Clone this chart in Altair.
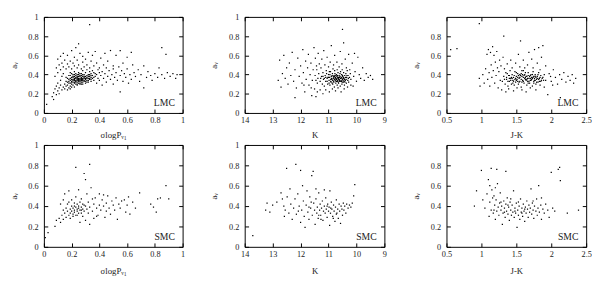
import altair as alt
import pandas as pd

# ---------------- data ----------------
lmc_sigma = [
    (0.15,0.30),(0.16,0.33),(0.17,0.29),(0.17,0.36),(0.18,0.31),(0.18,0.39),(0.19,0.28),(0.19,0.34),(0.19,0.42),(0.20,0.30),
    (0.20,0.37),(0.20,0.33),(0.21,0.29),(0.21,0.35),(0.21,0.40),(0.21,0.32),(0.22,0.27),(0.22,0.31),(0.22,0.36),(0.22,0.38),
    (0.22,0.43),(0.23,0.30),(0.23,0.34),(0.23,0.37),(0.23,0.33),(0.24,0.29),(0.24,0.32),(0.24,0.36),(0.24,0.40),(0.24,0.35),
    (0.25,0.31),(0.25,0.34),(0.25,0.38),(0.25,0.42),(0.26,0.30),(0.26,0.33),(0.26,0.36),(0.26,0.39),(0.27,0.32),(0.27,0.35),
    (0.27,0.37),(0.27,0.41),(0.28,0.30),(0.28,0.34),(0.28,0.38),(0.28,0.44),(0.29,0.33),(0.29,0.36),(0.29,0.40),(0.30,0.31),
    (0.30,0.35),(0.30,0.38),(0.30,0.42),(0.31,0.34),(0.31,0.37),(0.31,0.45),(0.32,0.32),(0.32,0.36),(0.32,0.40),(0.33,0.35),
    (0.33,0.38),(0.33,0.43),(0.34,0.33),(0.34,0.37),(0.34,0.41),(0.35,0.36),(0.35,0.39),(0.36,0.34),(0.36,0.42),(0.37,0.38),
    (0.16,0.37),(0.18,0.35),(0.20,0.41),(0.23,0.39),(0.25,0.36),(0.26,0.34),(0.24,0.38),(0.22,0.34),(0.21,0.37),(0.19,0.31),
    (0.17,0.32),(0.28,0.36),(0.29,0.38),(0.27,0.39),(0.26,0.41),(0.31,0.39),(0.32,0.34),(0.33,0.40),(0.35,0.44),(0.38,0.40),
    (0.39,0.36),(0.40,0.42),
    (0.18,0.33),(0.19,0.36),(0.19,0.39),(0.20,0.32),(0.20,0.35),(0.21,0.34),(0.21,0.38),(0.22,0.32),(0.22,0.35),(0.22,0.40),
    (0.23,0.32),(0.23,0.36),(0.23,0.41),(0.24,0.30),(0.24,0.34),(0.24,0.37),(0.25,0.33),(0.25,0.35),(0.25,0.40),(0.26,0.31),
    (0.26,0.35),(0.26,0.38),(0.27,0.30),(0.27,0.34),(0.27,0.36),(0.28,0.32),(0.28,0.35),(0.28,0.40),(0.29,0.34),(0.29,0.37),
    (0.30,0.33),(0.30,0.36),(0.31,0.32),(0.31,0.36),(0.32,0.38),(0.33,0.36),(0.34,0.35),(0.34,0.39),(0.36,0.37),(0.37,0.41),
    (0.09,0.47),(0.10,0.56),(0.11,0.50),(0.12,0.45),(0.12,0.59),(0.13,0.52),(0.14,0.48),(0.14,0.62),(0.15,0.55),(0.16,0.46),
    (0.17,0.51),(0.17,0.60),(0.18,0.48),(0.19,0.54),(0.20,0.46),(0.20,0.65),(0.21,0.52),(0.22,0.49),(0.22,0.58),(0.23,0.68),
    (0.24,0.47),(0.24,0.55),(0.25,0.72),(0.25,0.50),(0.26,0.62),(0.27,0.46),(0.28,0.53),(0.28,0.59),(0.29,0.48),(0.30,0.56),
    (0.31,0.50),(0.32,0.63),(0.33,0.47),(0.34,0.54),(0.35,0.60),(0.36,0.49),(0.37,0.64),(0.38,0.52),(0.40,0.47),(0.41,0.57),
    (0.43,0.50),(0.44,0.62),(0.46,0.54),(0.48,0.65),(0.50,0.49),(0.52,0.60),(0.55,0.65),(0.57,0.52),(0.60,0.58),(0.63,0.63),
    (0.38,0.31),(0.39,0.45),(0.40,0.34),(0.41,0.39),(0.42,0.29),(0.42,0.43),(0.43,0.36),(0.44,0.41),(0.45,0.32),(0.45,0.47),
    (0.46,0.38),(0.47,0.44),(0.48,0.35),(0.49,0.40),(0.50,0.30),(0.50,0.46),(0.51,0.37),(0.52,0.42),(0.53,0.34),(0.54,0.48),
    (0.55,0.22),(0.55,0.39),(0.56,0.44),(0.57,0.33),(0.58,0.41),(0.59,0.37),(0.60,0.46),(0.61,0.31),(0.62,0.40),(0.63,0.35),
    (0.64,0.50),(0.65,0.42),(0.66,0.38),(0.68,0.45),(0.69,0.33),(0.70,0.40),(0.72,0.26),(0.72,0.49),(0.74,0.37),(0.75,0.43),
    (0.77,0.39),(0.78,0.34),(0.80,0.41),(0.82,0.37),(0.83,0.47),(0.85,0.40),(0.85,0.68),(0.87,0.36),(0.88,0.61),(0.89,0.42),
    (0.91,0.38),(0.93,0.41),(0.95,0.36),(0.96,0.40),
    (0.02,0.09),(0.06,0.17),(0.07,0.14),(0.07,0.21),(0.08,0.25),(0.09,0.19),(0.09,0.28),(0.10,0.23),(0.10,0.31),(0.11,0.26),
    (0.11,0.20),(0.12,0.29),(0.12,0.34),(0.13,0.24),(0.13,0.38),(0.14,0.27),(0.14,0.41),(0.15,0.25),(0.16,0.28),(0.17,0.24),
    (0.18,0.26),(0.19,0.25),(0.20,0.27),(0.08,0.38),(0.10,0.42),(0.33,0.92),
]

lmc_k = [
    (11.30,0.33),(11.25,0.38),(11.22,0.30),(11.20,0.42),(11.18,0.35),(11.15,0.28),(11.12,0.39),(11.10,0.33),(11.08,0.44),(11.05,0.36),
    (11.03,0.30),(11.00,0.40),(10.98,0.34),(10.96,0.37),(10.95,0.29),(10.93,0.43),(10.91,0.32),(10.90,0.38),(10.88,0.35),(10.86,0.41),
    (10.85,0.30),(10.83,0.36),(10.82,0.33),(10.80,0.39),(10.79,0.27),(10.78,0.44),(10.76,0.34),(10.75,0.37),(10.74,0.31),(10.72,0.40),
    (10.71,0.35),(10.70,0.38),(10.69,0.29),(10.68,0.33),(10.66,0.42),(10.65,0.36),(10.64,0.31),(10.62,0.39),(10.61,0.34),(10.60,0.37),
    (10.58,0.28),(10.57,0.43),(10.56,0.33),(10.55,0.36),(10.53,0.40),(10.52,0.30),(10.50,0.35),(10.49,0.38),(10.47,0.32),(10.46,0.42),
    (10.45,0.36),(10.43,0.29),(10.42,0.39),(10.40,0.34),(10.38,0.41),(10.36,0.31),(10.35,0.37),(10.33,0.44),(10.31,0.34),(10.30,0.39),
    (10.28,0.32),(10.25,0.37),(10.22,0.41),(10.20,0.35),(11.35,0.41),(11.38,0.36),(11.40,0.31),(11.42,0.45),(11.45,0.34),(11.48,0.39),
    (10.92,0.35),(10.87,0.31),(10.81,0.37),(10.77,0.41),(10.73,0.33),(10.67,0.37),(10.63,0.35),(10.59,0.41),(10.54,0.33),(10.48,0.36),
    (10.44,0.33),(10.39,0.37),(11.02,0.37),(11.07,0.41),(10.97,0.43),(10.84,0.46),(10.69,0.45),(10.51,0.45),
    (11.15,0.36),(11.10,0.37),(11.05,0.33),(11.00,0.37),(10.98,0.31),(10.95,0.40),(10.92,0.33),(10.89,0.36),(10.87,0.39),(10.85,0.34),
    (10.83,0.38),(10.81,0.32),(10.79,0.35),(10.78,0.38),(10.76,0.36),(10.74,0.39),(10.73,0.35),(10.71,0.33),(10.70,0.36),(10.68,0.39),
    (10.67,0.34),(10.65,0.32),(10.64,0.37),(10.62,0.35),(10.60,0.33),(10.59,0.38),(10.57,0.36),(10.55,0.34),(10.53,0.37),(10.51,0.32),
    (10.50,0.39),(10.48,0.34),(10.46,0.37),(10.43,0.35),(10.41,0.32),(10.37,0.35),(10.34,0.39),(10.29,0.36),(11.20,0.38),(11.28,0.36),
    (12.80,0.34),(12.75,0.55),(12.70,0.27),(12.65,0.41),(12.60,0.60),(12.55,0.36),(12.50,0.47),(12.45,0.30),(12.40,0.52),(12.35,0.39),
    (12.30,0.63),(12.25,0.33),(12.20,0.45),(12.15,0.26),(12.10,0.57),(12.05,0.38),(12.00,0.49),(11.95,0.31),(11.92,0.66),(11.90,0.42),
    (11.85,0.22),(11.82,0.54),(11.80,0.35),(11.75,0.47),(11.72,0.61),(11.70,0.29),(11.66,0.40),(11.63,0.52),(11.60,0.18),(11.58,0.34),
    (11.55,0.45),(11.52,0.68),(11.50,0.25),(11.47,0.57),(11.43,0.49),(11.40,0.22),(11.37,0.62),(11.33,0.51),(11.30,0.24),(11.27,0.47),
    (11.24,0.56),(11.20,0.20),(11.17,0.65),(11.13,0.50),(11.10,0.24),(11.05,0.58),(11.00,0.48),(10.97,0.22),(10.94,0.53),(10.90,0.70),
    (10.86,0.25),(10.82,0.50),(10.78,0.60),(10.75,0.23),(10.70,0.53),(10.66,0.26),(10.62,0.48),(10.58,0.64),(10.55,0.22),(10.52,0.51),
    (10.50,0.87),(10.46,0.73),(10.44,0.25),(10.40,0.56),(10.36,0.47),(10.32,0.27),(10.28,0.61),(10.24,0.45),(10.20,0.29),(10.15,0.52),
    (10.10,0.38),(10.05,0.43),(10.00,0.33),(9.95,0.58),(9.90,0.40),(9.85,0.36),(9.78,0.47),(9.72,0.34),(9.65,0.41),(9.58,0.37),
    (9.50,0.39),(9.42,0.35),(10.12,0.28),(10.07,0.62),(11.62,0.26),(11.88,0.29),(12.20,0.16),(11.45,0.17),
]

lmc_jk = [
    (1.30,0.33),(1.32,0.38),(1.34,0.30),(1.35,0.42),(1.36,0.35),(1.38,0.28),(1.39,0.39),(1.40,0.33),(1.41,0.44),(1.42,0.36),
    (1.43,0.30),(1.44,0.40),(1.45,0.34),(1.46,0.37),(1.47,0.29),(1.48,0.43),(1.49,0.32),(1.50,0.38),(1.51,0.35),(1.52,0.41),
    (1.53,0.30),(1.54,0.36),(1.55,0.33),(1.56,0.39),(1.57,0.27),(1.58,0.44),(1.59,0.34),(1.60,0.37),(1.61,0.31),(1.62,0.40),
    (1.63,0.35),(1.64,0.38),(1.65,0.29),(1.66,0.33),(1.67,0.42),(1.68,0.36),(1.69,0.31),(1.70,0.39),(1.71,0.34),(1.72,0.37),
    (1.73,0.28),(1.74,0.43),(1.75,0.33),(1.76,0.36),(1.77,0.40),(1.78,0.30),(1.79,0.35),(1.80,0.38),(1.81,0.32),(1.82,0.42),
    (1.83,0.36),(1.84,0.29),(1.85,0.39),(1.86,0.34),(1.37,0.41),(1.43,0.37),(1.48,0.35),(1.53,0.39),(1.58,0.32),(1.63,0.42),
    (1.68,0.33),(1.73,0.40),(1.78,0.37),(1.83,0.33),(1.45,0.31),(1.55,0.37),(1.65,0.35),(1.75,0.38),(1.62,0.36),(1.70,0.36),
    (1.50,0.42),(1.60,0.44),(1.40,0.36),(1.33,0.35),(1.88,0.37),(1.90,0.40),(1.92,0.34),(1.57,0.41),(1.67,0.39),(1.77,0.34),
    (1.36,0.37),(1.38,0.33),(1.40,0.39),(1.42,0.34),(1.44,0.36),(1.46,0.33),(1.47,0.39),(1.49,0.36),(1.50,0.34),(1.52,0.37),
    (1.54,0.32),(1.55,0.40),(1.57,0.35),(1.58,0.38),(1.60,0.33),(1.61,0.39),(1.63,0.37),(1.64,0.34),(1.66,0.36),(1.67,0.31),
    (1.69,0.38),(1.70,0.34),(1.71,0.40),(1.72,0.35),(1.74,0.37),(1.75,0.31),(1.76,0.34),(1.77,0.38),(1.79,0.32),(1.80,0.36),
    (1.81,0.40),(1.82,0.35),(1.84,0.37),(1.85,0.33),(1.87,0.36),(1.89,0.34),(1.52,0.33),(1.59,0.40),(1.65,0.38),(1.73,0.36),
    (0.56,0.66),(0.65,0.67),(0.97,0.93),(1.32,0.80),(1.56,0.75),(0.97,0.36),(0.98,0.28),(1.02,0.40),(1.04,0.31),(1.06,0.46),
    (1.08,0.61),(1.09,0.35),(1.10,0.66),(1.11,0.42),(1.12,0.28),(1.13,0.63),(1.14,0.50),(1.15,0.37),(1.16,0.69),(1.17,0.44),
    (1.18,0.60),(1.19,0.31),(1.20,0.53),(1.21,0.39),(1.22,0.64),(1.23,0.47),(1.24,0.26),(1.25,0.43),(1.26,0.55),(1.27,0.34),
    (1.28,0.49),(1.29,0.24),(1.31,0.58),(1.33,0.46),(1.35,0.22),(1.37,0.51),(1.39,0.25),(1.42,0.55),(1.44,0.47),(1.46,0.23),
    (1.49,0.52),(1.51,0.26),(1.53,0.61),(1.55,0.48),(1.58,0.24),(1.60,0.55),(1.62,0.47),(1.64,0.22),(1.66,0.50),(1.68,0.63),
    (1.70,0.26),(1.72,0.56),(1.74,0.47),(1.76,0.66),(1.78,0.24),(1.80,0.52),(1.82,0.68),(1.84,0.45),(1.86,0.58),(1.88,0.70),
    (1.90,0.27),(1.92,0.49),(1.95,0.19),(1.97,0.41),(2.00,0.33),(2.03,0.45),(2.06,0.37),(2.09,0.30),(2.12,0.40),(2.13,0.16),
    (2.15,0.35),(2.18,0.42),(2.21,0.32),(2.24,0.38),(2.27,0.34),(2.30,0.40),(2.32,0.31),(2.35,0.36),(1.99,0.38),(2.02,0.29),
]

smc_sigma = [
    (0.01,0.09),(0.03,0.14),(0.08,0.20),(0.09,0.26),(0.11,0.28),(0.12,0.24),(0.13,0.31),(0.14,0.27),(0.14,0.36),(0.15,0.52),
    (0.15,0.33),(0.16,0.38),(0.16,0.29),(0.17,0.42),(0.17,0.35),(0.18,0.31),(0.18,0.55),(0.18,0.44),(0.19,0.37),(0.19,0.33),
    (0.19,0.28),(0.20,0.40),(0.20,0.35),(0.20,0.46),(0.21,0.32),(0.21,0.38),(0.21,0.30),(0.22,0.43),(0.22,0.36),(0.22,0.34),
    (0.23,0.39),(0.23,0.31),(0.23,0.49),(0.23,0.78),(0.24,0.37),(0.24,0.35),(0.24,0.42),(0.25,0.33),(0.25,0.40),(0.25,0.38),
    (0.25,0.56),(0.26,0.36),(0.26,0.44),(0.26,0.24),(0.27,0.39),(0.27,0.33),(0.27,0.47),(0.28,0.37),(0.28,0.30),(0.28,0.42),
    (0.29,0.72),(0.29,0.35),(0.30,0.66),(0.30,0.40),(0.30,0.26),(0.31,0.52),(0.31,0.37),(0.32,0.44),(0.32,0.33),(0.33,0.81),
    (0.33,0.22),(0.33,0.39),(0.34,0.58),(0.35,0.35),(0.36,0.42),(0.36,0.28),(0.37,0.48),(0.38,0.38),(0.39,0.31),(0.40,0.52),
    (0.40,0.41),(0.41,0.36),(0.42,0.46),(0.43,0.40),(0.44,0.29),(0.45,0.43),(0.45,0.35),(0.46,0.50),(0.47,0.38),(0.48,0.32),
    (0.49,0.45),(0.50,0.41),(0.51,0.36),(0.52,0.48),(0.53,0.27),(0.54,0.42),(0.55,0.38),(0.56,0.45),(0.58,0.46),(0.59,0.34),
    (0.60,0.41),(0.61,0.49),(0.62,0.32),(0.64,0.44),(0.66,0.38),(0.69,0.53),(0.77,0.42),(0.79,0.39),(0.81,0.34),(0.82,0.47),
    (0.84,0.48),(0.88,0.60),(0.90,0.47),(0.12,0.42),(0.14,0.46),(0.22,0.40),(0.24,0.31),(0.27,0.36),(0.29,0.41),(0.35,0.47),
    (0.38,0.30),(0.43,0.51),
]

smc_k = [
    (13.71,0.11),(13.25,0.36),(13.20,0.43),(13.10,0.34),(13.00,0.41),(12.85,0.44),(12.70,0.53),(12.65,0.47),(12.60,0.40),(12.58,0.30),
    (12.55,0.36),(12.50,0.77),(12.48,0.49),(12.42,0.33),(12.38,0.57),(12.35,0.42),(12.30,0.27),(12.25,0.38),(12.20,0.47),(12.17,0.81),
    (12.15,0.32),(12.10,0.52),(12.05,0.40),(12.00,0.75),(12.00,0.24),(11.96,0.36),(11.93,0.60),(11.90,0.45),(11.87,0.30),(11.84,0.19),
    (11.80,0.41),(11.77,0.55),(11.74,0.34),(11.70,0.27),(11.67,0.49),(11.64,0.38),(11.60,0.70),(11.58,0.31),(11.55,0.74),(11.53,0.43),
    (11.50,0.36),(11.48,0.22),(11.45,0.47),(11.42,0.33),(11.40,0.39),(11.37,0.28),(11.35,0.53),(11.32,0.36),(11.30,0.42),(11.28,0.31),
    (11.25,0.38),(11.22,0.45),(11.20,0.26),(11.18,0.35),(11.15,0.40),(11.12,0.33),(11.10,0.48),(11.08,0.37),(11.05,0.29),(11.03,0.42),
    (11.00,0.35),(10.98,0.39),(10.96,0.21),(10.93,0.33),(10.90,0.44),(10.88,0.37),(10.85,0.30),(10.82,0.41),(10.80,0.35),(10.77,0.25),
    (10.75,0.39),(10.72,0.46),(10.70,0.33),(10.67,0.37),(10.65,0.28),(10.62,0.42),(10.60,0.35),(10.57,0.23),(10.55,0.40),(10.52,0.37),
    (10.50,0.31),(10.47,0.43),(10.45,0.36),(10.42,0.40),(10.38,0.33),(10.35,0.42),(10.30,0.38),(10.25,0.41),(10.20,0.39),(10.15,0.43),
    (10.10,0.50),(10.06,0.61),(11.45,0.57),(11.15,0.56),(10.95,0.55),(11.62,0.44),(11.27,0.27),(10.83,0.28),(11.70,0.39),(12.08,0.35),
    (10.72,0.32),(11.05,0.40),(11.35,0.31),(10.92,0.38),
]

smc_jk = [
    (0.90,0.40),(0.93,0.55),(1.00,0.75),(1.02,0.46),(1.05,0.38),(1.08,0.52),(1.10,0.66),(1.11,0.30),(1.12,0.44),(1.14,0.77),
    (1.14,0.36),(1.15,0.56),(1.16,0.48),(1.17,0.33),(1.18,0.50),(1.19,0.41),(1.20,0.27),(1.21,0.46),(1.22,0.76),(1.22,0.35),
    (1.23,0.62),(1.24,0.39),(1.25,0.31),(1.26,0.43),(1.27,0.53),(1.28,0.36),(1.29,0.40),(1.30,0.22),(1.31,0.33),(1.32,0.45),
    (1.33,0.38),(1.34,0.29),(1.35,0.74),(1.35,0.42),(1.36,0.35),(1.37,0.48),(1.38,0.32),(1.39,0.39),(1.40,0.26),(1.41,0.44),
    (1.42,0.36),(1.43,0.31),(1.44,0.41),(1.45,0.34),(1.46,0.55),(1.47,0.29),(1.48,0.38),(1.49,0.33),(1.50,0.43),(1.51,0.19),
    (1.52,0.36),(1.53,0.31),(1.54,0.40),(1.55,0.27),(1.56,0.47),(1.57,0.34),(1.58,0.38),(1.59,0.30),(1.60,0.42),(1.61,0.35),
    (1.62,0.25),(1.63,0.39),(1.64,0.33),(1.65,0.45),(1.66,0.37),(1.67,0.29),(1.68,0.41),(1.69,0.34),(1.70,0.38),(1.71,0.57),
    (1.72,0.32),(1.73,0.43),(1.74,0.36),(1.75,0.28),(1.76,0.40),(1.78,0.35),(1.79,0.47),(1.80,0.31),(1.81,0.38),(1.82,0.60),
    (1.83,0.34),(1.85,0.41),(1.86,0.27),(1.88,0.37),(1.90,0.33),(1.92,0.42),(1.95,0.36),(1.97,0.29),(2.00,0.73),(2.02,0.38),
    (2.05,0.35),(2.10,0.76),(2.12,0.78),(2.13,0.65),(2.23,0.33),(2.39,0.36),(1.28,0.44),(1.38,0.41),(1.48,0.35),(1.58,0.33),
    (1.18,0.36),(1.42,0.47),(1.53,0.44),(1.62,0.37),(1.33,0.34),(1.74,0.45),(1.86,0.48),(1.12,0.60),(1.20,0.58),
]

sigma_ticks = [0, 0.2, 0.4, 0.6, 0.8, 1]
k_ticks = [14, 13, 12, 11, 10, 9]
jk_ticks = [0.5, 1, 1.5, 2, 2.5]
y_ticks_full = [0, 0.2, 0.4, 0.6, 0.8, 1]
y_ticks_jk = [0, 0.2, 0.4, 0.6, 0.8]

X_TITLE_SIGMA = "σlogPᵥ₁"
Y_TITLE = "aᵥ"

FONT = "Liberation Serif"
INK = "#222222"


def panel(pts, xdom, xticks, reverse, xtitle, yticks, tag, ttl_pad, w, h):
    df = pd.DataFrame(pts, columns=["x", "y"])
    xs = alt.Scale(domain=xdom, reverse=reverse, nice=False, zero=False)
    ys = alt.Scale(domain=[0, 1], nice=False)
    common = dict(grid=False, domain=False, ticks=True, tickSize=4, tickColor="black",
                  tickWidth=1, offset=-4)
    pts_layer = alt.Chart(df).mark_square(size=1.6, color="black", opacity=1).encode(
        x=alt.X("x:Q", scale=xs,
                axis=alt.Axis(orient="bottom", values=xticks, format="~g", title=xtitle,
                              labelPadding=3, titlePadding=ttl_pad, labelFlush=False, **common)),
        y=alt.Y("y:Q", scale=ys,
                axis=alt.Axis(orient="left", values=yticks, format="~g", title=Y_TITLE,
                              labelPadding=6, titlePadding=10, **common)),
    )
    mirror = alt.Chart(df).mark_square(size=1, opacity=0).encode(
        x=alt.X("x:Q", scale=xs,
                axis=alt.Axis(orient="top", values=xticks, labels=False, title=None, **common)),
        y=alt.Y("y:Q", scale=ys,
                axis=alt.Axis(orient="right", values=yticks, labels=False, title=None, **common)),
    )
    label = alt.Chart(pd.DataFrame({"t": [tag]})).mark_text(
        align="right", baseline="middle", font=FONT, fontSize=10, color=INK
    ).encode(text="t:N", x=alt.value(w - 8), y=alt.value(h - 10))
    return alt.layer(pts_layer, mirror, label).resolve_axis(
        x="independent", y="independent"
    ).properties(width=w, height=h)


H_TOP, H_BOT = 99, 105

top = alt.hconcat(
    panel(lmc_sigma, [0, 1], sigma_ticks, False, X_TITLE_SIGMA, y_ticks_full, "LMC", 7, 143, H_TOP),
    panel(lmc_k, [9, 14], k_ticks, True, "K", y_ticks_full, "LMC", 7, 144, H_TOP),
    panel(lmc_jk, [0.5, 2.5], jk_ticks, False, "J-K", y_ticks_jk, "LMC", 7, 144, H_TOP),
    spacing=24,
)
bottom = alt.hconcat(
    panel(smc_sigma, [0, 1], sigma_ticks, False, X_TITLE_SIGMA, y_ticks_full, "SMC", 9, 143, H_BOT),
    panel(smc_k, [9, 14], k_ticks, True, "K", y_ticks_full, "SMC", 9, 144, H_BOT),
    panel(smc_jk, [0.5, 2.5], jk_ticks, False, "J-K", y_ticks_jk, "SMC", 9, 144, H_BOT),
    spacing=24,
)

chart = alt.vconcat(top, bottom, spacing=0).properties(
    padding={"left": 0, "top": 0, "right": 0, "bottom": 0}
).configure_view(
    stroke="black", strokeWidth=1
).configure_axis(
    labelFont=FONT, labelFontSize=8.5, labelColor=INK,
    titleFont=FONT, titleFontSize=9, titleFontWeight="normal", titleColor=INK,
)

chart.save("out.html", embed_options={"renderer": "svg", "actions": False})
